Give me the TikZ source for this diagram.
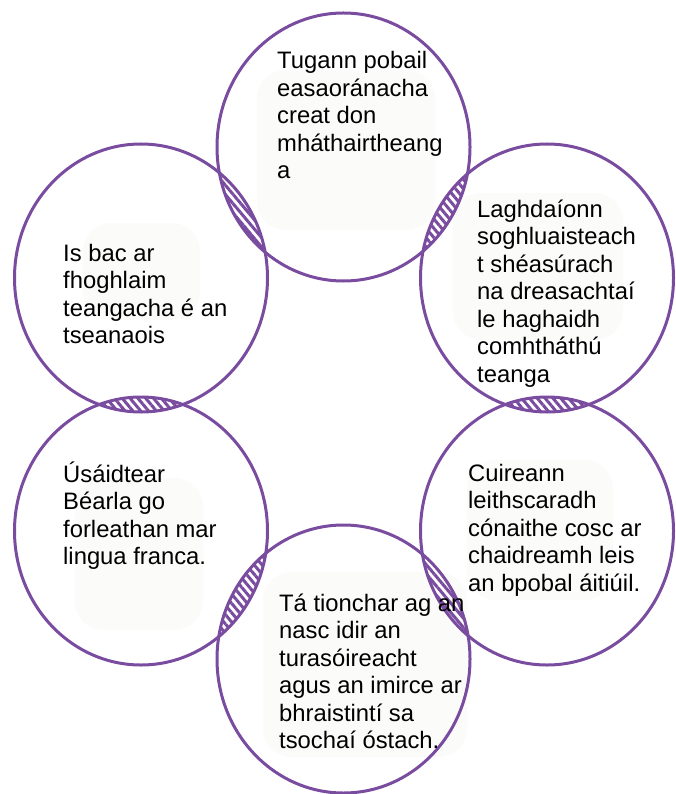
\documentclass[tikz,border=0pt]{standalone}
\usepackage{fontspec}
\setmainfont{Liberation Sans}
\usetikzlibrary{patterns.meta}
\definecolor{ringpurple}{RGB}{122,76,160}
\definecolor{blobgrey}{RGB}{251,252,250}
\tikzset{
  ring/.style={draw=ringpurple, line width=3pt},
  lens/.style={pattern={Lines[angle=-50,distance=6pt,line width=3pt]}, pattern color=ringpurple},
  blob/.style={fill=blobgrey, rounded corners=28pt},
  % anchored at the baseline of the last line
  label/.style={anchor=base west, inner sep=0pt, align=left, text=black,
    font=\fontsize{23.8}{27.5}\selectfont},
}
\newcommand{\rx}{126.5}
\newcommand{\ry}{134}
\begin{document}
\begin{tikzpicture}[x=1pt,y=-1pt]
\useasboundingbox (0,0) rectangle (676,794);
% circle centres
\coordinate (cT)  at (343.5,147);
\coordinate (cUR) at (547,278);
\coordinate (cLR) at (547,531);
\coordinate (cB)  at (343.5,659);
\coordinate (cLL) at (141,531);
\coordinate (cUL) at (141,278);
% faint backing shapes behind the texts
\fill[blob] (257,70) rectangle (435,230);
\fill[blob] (453,193) rectangle (623,340);
\fill[blob] (467,460) rectangle (613,600);
\fill[blob] (263,572) rectangle (467,757);
\fill[blob] (75,478) rectangle (203,630);
\fill[blob] (83,223) rectangle (200,320);
% hatched overlaps of neighbouring circles
\foreach \a/\b in {cT/cUR, cUR/cLR, cLR/cB, cB/cLL, cLL/cUL, cUL/cT} {
  \begin{scope}
    \clip (\a) ellipse [x radius=\rx, y radius=\ry];
    \fill[lens] (\b) ellipse [x radius=\rx, y radius=\ry];
  \end{scope}
}
% the six circles
\foreach \c in {cT, cUR, cLR, cB, cLL, cUL}
  \draw[ring] (\c) ellipse [x radius=\rx, y radius=\ry];
% texts
\node[label] (tT) at (277,179) {Tugann pobail\\easaoránacha\\creat don\\mháthairtheang\\a};
\node[label] (tUR) at (477,382) {Laghdaíonn\\soghluaisteach\\t shéasúrach\\na dreasachtaí\\le haghaidh\\comhtháthú\\teanga};
\node[label] (tLR) at (468,591) {Cuireann\\leithscaradh\\cónaithe cosc ar\\chaidreamh leis\\an bpobal áitiúil.};
\node[label] (tB) at (279,748.5) {Tá tionchar ag an\\nasc idir an\\turasóireacht\\agus an imirce ar\\bhraistintí sa\\tsochaí óstach.};
\node[label] (tLL) at (63,564.5) {Úsáidtear\\Béarla go\\forleathan mar\\lingua franca.};
\node[label] (tUL) at (63,343.5) {Is bac ar\\fhoghlaim\\teangacha é an\\tseanaois};
\end{tikzpicture}
\end{document}
